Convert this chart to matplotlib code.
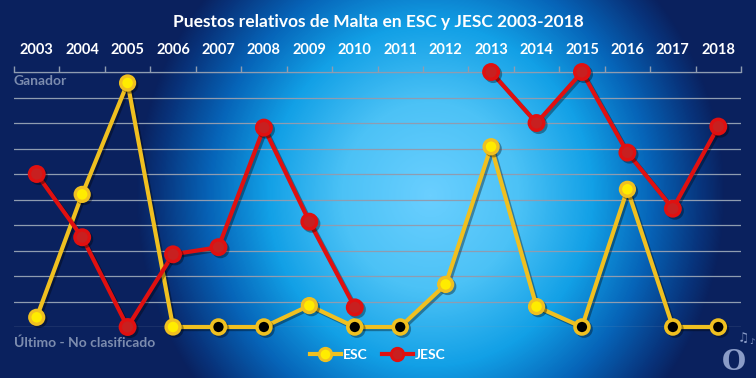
import numpy as np
import matplotlib
matplotlib.use("Agg")
import matplotlib.pyplot as plt
from matplotlib.colors import LinearSegmentedColormap
import matplotlib.patheffects as pe
from matplotlib.lines import Line2D

nan = np.nan
years = [str(y) for y in range(2003, 2019)]
esc_values = [0.38, 5.2, 9.57, 0, 0, 0, 0.84, 0, 0, 1.67, 7.07, 0.8, 0, 5.4, 0, 0]
esc_dnq = [False, False, False, False, True, True, False, True, True,
           False, False, False, True, False, True, True]
jesc_values = [6.0, 3.52, 0.0, 2.85, 3.13, 7.82, 4.13, 0.77, nan, nan,
               10.0, 8.0, 10.0, 6.84, 4.64, 7.86]

title = "Puestos relativos de Malta en ESC y JESC 2003-2018"
top_label = "Ganador"
bottom_label = "Último - No clasificado"
series_names = ["ESC", "JESC"]

FONT = ["Lato", "DejaVu Sans"]
plt.rcParams['font.family'] = FONT

W, H = 756, 378
fig = plt.figure(figsize=(W / 100, H / 100), dpi=100)

# background radial gradient
bg = fig.add_axes([0, 0, 1, 1])
xx, yy = np.meshgrid(np.arange(W), np.arange(H))
cx, cy, rx, ry = 430, 195, 295, 310
t = np.sqrt(((xx - cx) / rx) ** 2 + ((yy - cy) / ry) ** 2)
t = np.clip(t, 0, 1)
cmap = LinearSegmentedColormap.from_list(
    "bgc", [(0.0, "#6acfff"), (0.3, "#4cc2f6"), (0.55, "#12a0e6"),
            (0.75, "#0664b8"), (0.92, "#08347c"), (1.0, "#0a215e")])
bg.imshow(t, cmap=cmap, extent=[0, 1, 0, 1], aspect="auto", origin="upper",
          vmin=0, vmax=1, zorder=0)
bg.axis("off")

left, right, top, bottom = 14 / W, 741 / W, 1 - 72 / H, 1 - 327 / H
ax = fig.add_axes([left, bottom, right - left, top - bottom])
ax.set_facecolor("none")
n = len(years)
x = np.arange(n)
ax.set_xlim(-0.5, n - 0.5)
ax.set_ylim(0, 10)

ax.xaxis.tick_top()
ax.set_xticks(np.arange(-0.5, n, 1))
ax.set_xticklabels([])
ax.set_xticks(x, minor=True)
ax.set_xticklabels(years, minor=True)
ax.tick_params(axis="x", which="major", length=4, color="#8f9cb0", width=1)
ax.tick_params(axis="x", which="minor", length=0, pad=11, labelsize=10.5,
               labelcolor="white")
for lab in ax.get_xticklabels(minor=True):
    lab.set_fontweight("bold")
ax.set_yticks(np.arange(0, 11, 1))
ax.set_yticklabels([])
ax.tick_params(axis="y", length=0)
ax.yaxis.grid(True, color="#8f9cb0", lw=0.9)
for s in ["left", "right", "bottom"]:
    ax.spines[s].set_visible(False)
ax.spines["top"].set_color("#8f9cb0")
ax.spines["top"].set_linewidth(0.9)

shadow = [pe.SimpleLineShadow(offset=(1.5, -1.5), shadow_color="black", alpha=0.35),
          pe.Normal()]

esc_col, esc_in = "#f0c020", "#ffec00"
jesc_col, jesc_in = "#e01010", "#c82020"

esc = np.array(esc_values, dtype=float)
jesc = np.array(jesc_values, dtype=float)
dnq = np.array(esc_dnq)

ax.plot(x, esc, color=esc_col, lw=3, zorder=3, clip_on=False, path_effects=shadow)
ax.plot(x[~dnq], esc[~dnq], ls="none", marker="o", ms=10, mfc=esc_in, mec=esc_col,
        mew=2.4, zorder=4, clip_on=False, path_effects=shadow)
ax.plot(x[dnq], esc[dnq], ls="none", marker="o", ms=10, mfc="black", mec=esc_col,
        mew=2.6, zorder=4, clip_on=False, path_effects=shadow)

ax.plot(x, jesc, color=jesc_col, lw=3, zorder=5, clip_on=False, path_effects=shadow)
ax.plot(x, jesc, ls="none", marker="o", ms=10.5, mfc=jesc_in, mec=jesc_col,
        mew=2.4, zorder=6, clip_on=False, path_effects=shadow)

fig.text(0.5, 1 - 22 / H, title, ha="center", va="center", color="white",
         fontsize=12.5, fontweight="bold")
fig.text(13 / W, 1 - 81 / H, top_label, ha="left", va="center", color="#7c8cae",
         fontsize=10, fontweight="bold")
fig.text(14 / W, 1 - 343 / H, bottom_label, ha="left", va="center", color="#7c8cae",
         fontsize=10, fontweight="bold")

handles = [Line2D([], [], color=esc_col, lw=3, marker="o", ms=9, mfc=esc_in,
                  mec=esc_col, mew=2),
           Line2D([], [], color=jesc_col, lw=3, marker="o", ms=9, mfc=jesc_in,
                  mec=jesc_col, mew=2)]
leg = fig.legend(handles, series_names, loc="center", bbox_to_anchor=(0.5, 1 - 355 / H),
                 ncol=2, frameon=False, handlelength=2.2, handletextpad=0.2,
                 columnspacing=1.0, prop={"weight": "bold", "size": 10})
for txt in leg.get_texts():
    txt.set_color("white")

# logo
fig.text(734 / W, 1 - 362 / H, "O", ha="center", va="center", color="#8a9cc8",
         fontsize=20, fontweight="bold", family="DejaVu Serif")
fig.text(743 / W, 1 - 338 / H, "\u266b", ha="center", va="center", color="#8a9cc8",
         fontsize=9, family="DejaVu Sans")
fig.text(752 / W, 1 - 342 / H, "\u266a", ha="center", va="center", color="#8a9cc8",
         fontsize=6, family="DejaVu Sans")

fig.savefig("out.png", dpi=100)
